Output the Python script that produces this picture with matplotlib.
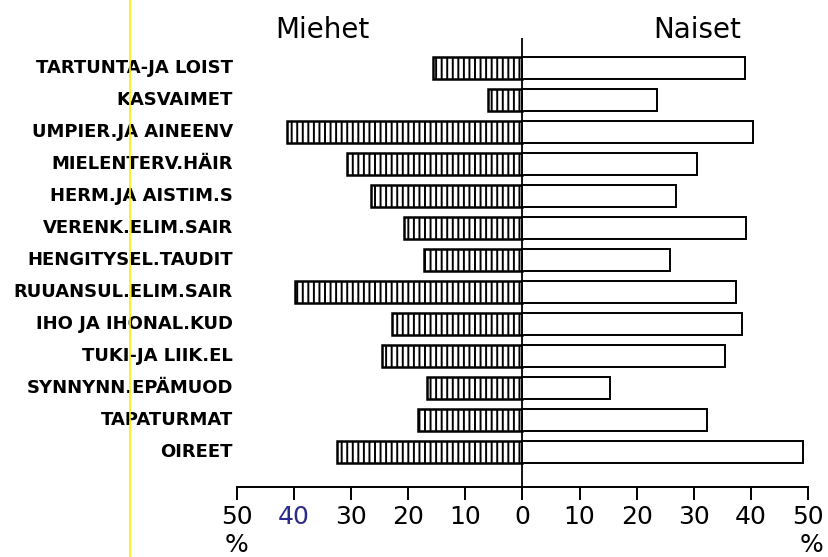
import matplotlib
matplotlib.use("Agg")
import matplotlib.pyplot as plt
import numpy as np

categories = ["TARTUNTA-JA LOIST", "KASVAIMET", "UMPIER.JA AINEENV", "MIELENTERV.HÄIR",
              "HERM.JA AISTIM.S", "VERENK.ELIM.SAIR", "HENGITYSEL.TAUDIT",
              "RUUANSUL.ELIM.SAIR", "IHO JA IHONAL.KUD", "TUKI-JA LIIK.EL",
              "SYNNYNN.EPÄMUOD", "TAPATURMAT", "OIREET"]
miehet = [15.7, 6.0, 41.3, 30.7, 26.5, 20.7, 17.3, 39.9, 22.9, 24.6, 16.7, 18.3, 32.5]
naiset = [39.0, 23.5, 40.3, 30.6, 26.9, 39.2, 25.8, 37.4, 38.5, 35.4, 15.4, 32.3, 49.2]
tick_values = [-50, -40, -30, -20, -10, 0, 10, 20, 30, 40, 50]
tick_labels = ["50", "40", "30", "20", "10", "0", "10", "20", "30", "40", "50"]

plt.rcParams['hatch.linewidth'] = 1.4
plt.rcParams['font.family'] = ['DejaVu Sans']

fig = plt.figure(figsize=(8.29, 5.57), dpi=100)
fig.patch.set_facecolor('white')
ax = fig.add_axes([237/829, 1-487/557, (808-237)/829, (487-38)/557])

y = np.arange(len(categories))
ax.barh(y, [-m for m in miehet], height=0.7, color='white', edgecolor='black',
        linewidth=1.8, hatch='|||', zorder=2)
ax.barh(y, naiset, height=0.7, color='white', edgecolor='black', linewidth=1.4, zorder=2)
ax.axvline(0, color='black', linewidth=1.3, zorder=3)

ax.set_xlim(-50, 50)
ax.set_ylim(len(categories) - 1 + 1.1, -0.94)
for s in ['top', 'right', 'left']:
    ax.spines[s].set_visible(False)
ax.spines['bottom'].set_linewidth(1.4)
ax.set_yticks([])
ax.set_xticks(tick_values)
ax.set_xticklabels(tick_labels, fontsize=18)
ax.tick_params(axis='x', direction='out', length=9, width=1.4, pad=4)
ax.get_xticklabels()[1].set_color('#2a2a8a')

for yi, c in zip(y, categories):
    ax.annotate(c, xy=(-50, yi), xytext=(-3, 0), textcoords='offset points',
                ha='right', va='center', fontsize=13, fontweight='bold',
                annotation_clip=False)

fig.text(322/829, 1-30/557, "Miehet", ha='center', va='center', fontsize=20)
fig.text(697/829, 1-30/557, "Naiset", ha='center', va='center', fontsize=20)
fig.text(237/829, 1-545/557, "%", ha='center', va='center', fontsize=18)
fig.text(812/829, 1-545/557, "%", ha='center', va='center', fontsize=18)

fig.add_artist(plt.Line2D([130/829, 130/829], [0, 1], color='#ffee00', linewidth=1.2,
                          transform=fig.transFigure))

fig.savefig("out.png", dpi=100, facecolor='white')
